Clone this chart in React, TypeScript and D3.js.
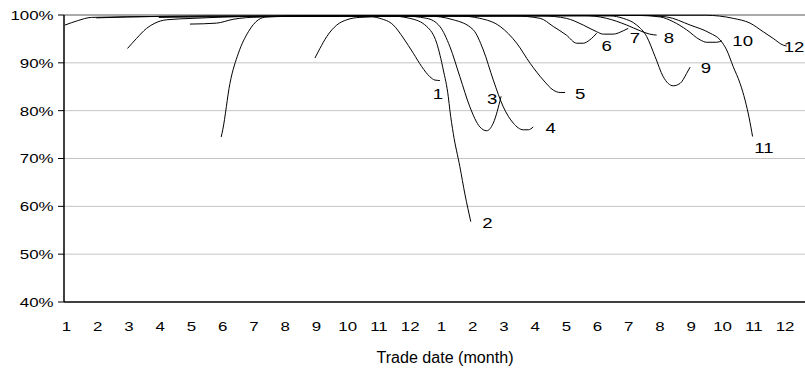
import { useEffect, useRef } from "react";
import * as d3 from "d3";

// month labels along the trade date axis (two years)
const months = ["1", "2", "3", "4", "5", "6", "7", "8", "9", "10", "11", "12"];
const monthLabels = [...months, ...months];

const yTicks = [40, 50, 60, 70, 80, 90, 100];

// [month index, percent] for each contract curve
const curve1: [number, number][] = [
    [0, 97.9], [0.4, 98.8], [0.85, 99.5], [3, 99.7], [6, 99.8], [9.6, 99.8],
    [10.08, 99.3], [10.51, 97.9], [10.83, 95.2], [11.15, 92.0], [11.42, 89.2],
    [11.68, 87.1], [11.84, 86.4], [12.0, 86.3],
];
const curve2: [number, number][] = [
    [1, 99.4], [3, 99.7], [6, 99.8], [10.4, 99.8], [11.04, 99.3], [11.58, 97.6],
    [11.9, 94.1], [12.11, 88.5], [12.27, 82.9], [12.32, 80.1], [12.43, 75.2],
    [12.64, 68.3], [12.8, 62.6], [12.99, 56.8],
];
const curve3: [number, number][] = [
    [2, 93.0], [2.29, 95.1], [2.61, 97.2], [2.88, 98.3], [3.25, 99.0], [4.1, 99.3],
    [6, 99.7], [10.8, 99.8], [11.58, 99.3], [12.0, 97.6], [12.32, 93.4],
    [12.64, 87.1], [12.96, 80.8], [13.28, 76.6], [13.5, 75.8], [13.71, 77.4],
    [13.96, 83.0],
];
const curve4: [number, number][] = [
    [3, 99.5], [6, 99.7], [11.6, 99.8], [12.43, 99.0], [13.07, 96.9],
    [13.39, 92.7], [13.71, 86.4], [14.03, 80.8], [14.35, 77.4], [14.67, 76.0],
    [14.83, 76.0], [14.99, 76.6],
];
const curve5: [number, number][] = [
    [4, 98.1], [4.85, 98.3], [5.38, 99.1], [6.25, 99.6], [8, 99.8], [12.6, 99.8],
    [13.28, 99.3], [13.93, 97.6], [14.46, 94.1], [14.89, 89.9], [15.31, 86.4],
    [15.63, 84.3], [15.85, 83.8], [16.01, 83.8],
];
const curve6: [number, number][] = [
    [5.0, 74.5], [5.05, 76.0], [5.28, 85.7], [5.55, 92.0], [5.87, 96.5],
    [6.19, 99.0], [6.46, 99.6], [8, 99.8], [14.4, 99.8], [15.21, 99.3],
    [15.63, 97.6], [16.05, 95.8], [16.38, 94.1], [16.59, 94.1], [16.8, 94.8],
    [17.02, 96.2],
];
const curve7: [number, number][] = [
    [6, 99.6], [8, 99.8], [15.3, 99.8], [16.05, 99.3], [16.59, 97.9],
    [17.02, 96.5], [17.23, 96.0], [17.55, 96.0], [17.87, 96.7], [18.03, 97.2],
];
const curve8: [number, number][] = [
    [7, 99.7], [9, 99.8], [16.6, 99.9], [17.34, 99.3], [17.98, 97.9],
    [18.41, 96.7], [18.72, 96.0], [18.94, 95.8],
];
const curve9: [number, number][] = [
    [8.0, 91.0], [8.16, 93.0], [8.38, 95.5], [8.7, 97.9], [9.02, 99.0],
    [9.44, 99.5], [11, 99.8], [17.45, 99.8], [17.87, 99.3], [18.3, 97.9],
    [18.62, 95.5], [18.89, 91.3], [19.15, 87.1], [19.47, 85.2], [19.69, 85.7],
    [19.9, 87.8], [20.01, 89.1],
];
const curve10: [number, number][] = [
    [9, 99.7], [11, 99.8], [18.4, 99.9], [19.05, 99.6], [19.47, 98.6],
    [19.9, 96.9], [20.33, 94.8], [20.54, 94.3], [20.86, 94.3], [21.02, 94.6],
];
const curve11: [number, number][] = [
    [10, 99.8], [12, 99.9], [18.6, 99.9], [19.26, 99.6], [20.01, 97.9],
    [20.65, 96.2], [20.97, 94.8], [21.18, 92.7], [21.39, 89.2], [21.61, 85.7],
    [21.77, 82.2], [21.9, 78.5], [22.01, 74.6],
];
const curve12: [number, number][] = [
    [11, 99.8], [13, 99.9], [20.5, 99.95], [21.39, 99.3], [21.93, 98.3],
    [22.35, 96.5], [22.67, 95.1], [22.99, 93.7], [23.1, 93.5],
];

const curves = [
    curve1, curve2, curve3, curve4, curve5, curve6,
    curve7, curve8, curve9, curve10, curve11, curve12,
];
const curveNames = ["1", "2", "3", "4", "5", "6", "7", "8", "9", "10", "11", "12"];

// where each label sits relative to the end of its curve (px)
const labelOffsets: [number, number][] = [
    [-2, 13], [16.6, 0.6], [-9, 2], [17.5, 0], [15, 0.6], [10, 12.5],
    [6.7, 9.2], [12.3, 2.5], [15.8, 0.2], [21, 0], [11.3, 11.3], [7.5, 0.5],
];

const W = 805;
const H = 371;
const left = 64;
const top = 15;
const bottom = 302;
const FONT = "'Liberation Sans', Arial, sans-serif";

export default function App() {
    const ref = useRef<SVGSVGElement>(null);

    useEffect(() => {
        const svg = d3.select(ref.current);
        svg.selectAll("*").remove();

        const x = d3.scaleLinear().domain([0, 23]).range([65, 783.5]);
        const y = d3.scaleLinear().domain([40, 100]).range([bottom, top]);

        // gridlines
        svg.append("g")
            .selectAll("line")
            .data(yTicks.filter((d) => d > 40 && d < 100))
            .enter()
            .append("line")
            .attr("x1", left)
            .attr("x2", W)
            .attr("y1", (d) => y(d))
            .attr("y2", (d) => y(d))
            .attr("stroke", "#c4c4c4")
            .attr("stroke-width", 1);

        svg.append("line")
            .attr("x1", left)
            .attr("x2", W)
            .attr("y1", y(100))
            .attr("y2", y(100))
            .attr("stroke", "#555")
            .attr("stroke-width", 1);

        // curves
        const line = d3
            .line<[number, number]>()
            .x((d) => x(d[0]))
            .y((d) => y(d[1]))
            .curve(d3.curveMonotoneX);

        svg.append("g")
            .selectAll("path")
            .data(curves)
            .enter()
            .append("path")
            .attr("d", (d) => line(d))
            .attr("fill", "none")
            .attr("stroke", "#000")
            .attr("stroke-width", 1);

        // curve labels
        svg.append("g")
            .selectAll("text")
            .data(curves)
            .enter()
            .append("text")
            .attr("transform", (d, i) => {
                const end = d[d.length - 1];
                const lx = x(end[0]) + labelOffsets[i][0];
                const ly = y(end[1]) + labelOffsets[i][1];
                return `translate(${lx},${ly}) scale(1.2,1)`;
            })
            .attr("text-anchor", "middle")
            .attr("dy", "0.36em")
            .attr("font-family", FONT)
            .attr("font-size", 15.5)
            .attr("fill", "#000")
            .text((d, i) => curveNames[i]);

        // axes
        svg.append("line")
            .attr("x1", left)
            .attr("x2", left)
            .attr("y1", top)
            .attr("y2", bottom)
            .attr("stroke", "#000")
            .attr("stroke-width", 1.5);
        svg.append("line")
            .attr("x1", left)
            .attr("x2", W)
            .attr("y1", bottom)
            .attr("y2", bottom)
            .attr("stroke", "#000")
            .attr("stroke-width", 1.5);

        const yAxis = svg.append("g");
        yAxis.selectAll("line")
            .data(yTicks)
            .enter()
            .append("line")
            .attr("x1", left - 6)
            .attr("x2", left)
            .attr("y1", (d) => y(d))
            .attr("y2", (d) => y(d))
            .attr("stroke", "#000");
        yAxis.selectAll("text")
            .data(yTicks)
            .enter()
            .append("text")
            .attr("transform", (d) => `translate(53.5,${y(d)}) scale(1.25,1)`)
            .attr("text-anchor", "end")
            .attr("dy", "0.36em")
            .attr("font-family", FONT)
            .attr("font-size", 13.5)
            .text((d) => d + "%");

        svg.append("g")
            .selectAll("text")
            .data(monthLabels)
            .enter()
            .append("text")
            .attr("transform", (d, i) => `translate(${x(i) + 1.5},326.5) scale(1.25,1)`)
            .attr("text-anchor", "middle")
            .attr("dy", "0.36em")
            .attr("font-family", FONT)
            .attr("font-size", 13.5)
            .text((d) => d);

        svg.append("text")
            .attr("x", 445)
            .attr("y", 357)
            .attr("dy", "0.36em")
            .attr("text-anchor", "middle")
            .attr("font-family", FONT)
            .attr("font-size", 16)
            .attr("textLength", 137)
            .attr("lengthAdjust", "spacingAndGlyphs")
            .text("Trade date (month)");
    }, []);

    return (
        <svg
            ref={ref}
            width={W}
            height={H}
            style={{ position: "absolute", left: 0, top: 0, background: "#fff" }}
        ></svg>
    );
}
